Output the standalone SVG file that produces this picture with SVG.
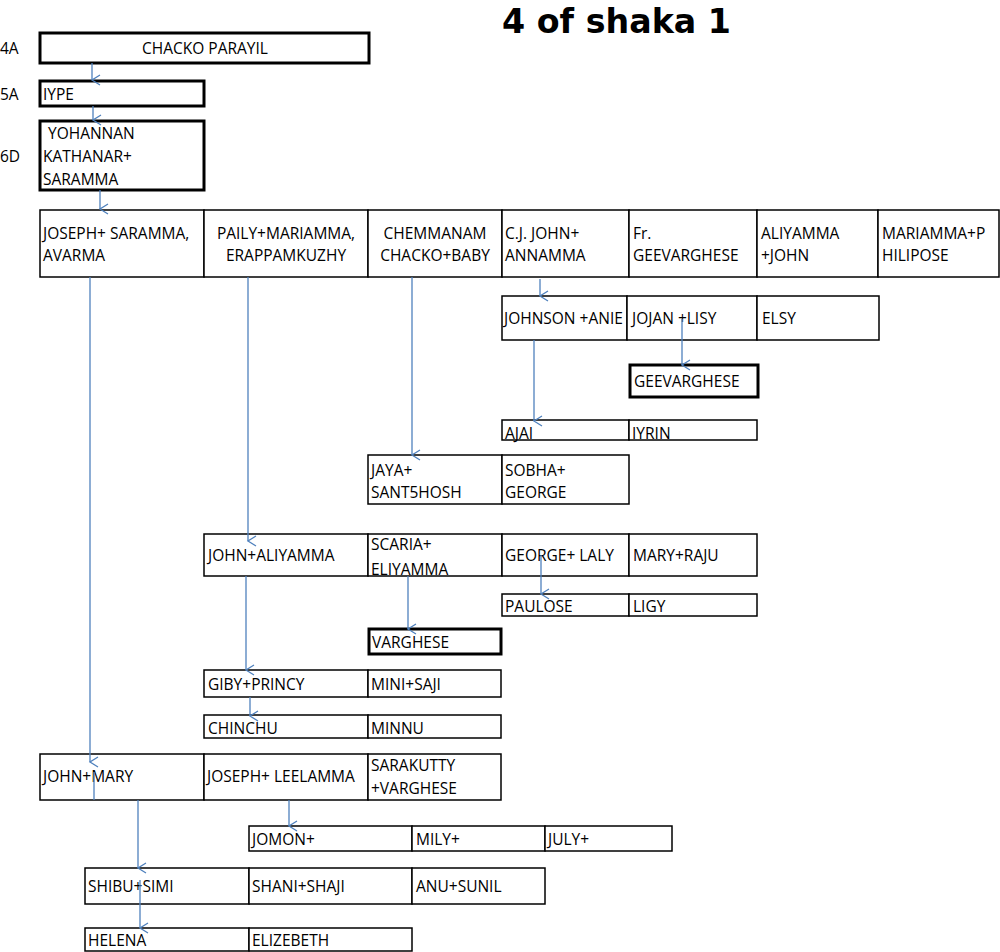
<svg xmlns="http://www.w3.org/2000/svg" width="1000" height="952" viewBox="0 0 1000 952">
<style>
.b{fill:#fff;stroke:#000;stroke-width:1.5}
.t{fill:#fff;stroke:#000;stroke-width:3}
text{font-family:"Open Sans","Liberation Sans",sans-serif;font-size:15.5px;fill:#000}
.c{text-anchor:middle}
.ti{font-family:"DejaVu Sans",sans-serif;font-weight:bold;font-size:34px}
.a{stroke:#4F81BD;stroke-width:1.3;fill:none}
</style>
<defs>
<marker id="ar" markerUnits="userSpaceOnUse" markerWidth="14" markerHeight="12" refX="6" refY="10" orient="auto-start-reverse" viewBox="0 0 12 12">
<path d="M1,2 L6,10 L11,2" fill="none" stroke="#4F81BD" stroke-width="1.3"/>
</marker>
</defs>
<rect width="1000" height="952" fill="#fff"/>
<text class="ti" x="502" y="33" textLength="229" lengthAdjust="spacingAndGlyphs">4 of shaka 1</text>
<text x="0" y="54">4A</text>
<text x="0" y="100">5A</text>
<text x="0" y="162">6D</text>

<g id="n4a"><rect class="t" x="40" y="33" width="329" height="30"/><text class="c" x="205" y="54">CHACKO PARAYIL</text></g>
<g id="n5a"><rect class="t" x="40" y="81" width="164" height="25"/><text x="43" y="100">IYPE</text></g>
<g id="n6d"><rect class="t" x="40" y="121" width="164" height="69"/><text x="48" y="139">YOHANNAN</text><text x="43" y="162">KATHANAR+</text><text x="43" y="185">SARAMMA</text></g>

<g id="row1">
<rect class="b" x="40" y="210" width="164" height="67"/><text x="43" y="239">JOSEPH+ SARAMMA,</text><text x="43" y="261">AVARMA</text>
<rect class="b" x="204" y="210" width="164" height="67"/><text class="c" x="286" y="239">PAILY+MARIAMMA,</text><text class="c" x="286" y="261">ERAPPAMKUZHY</text>
<rect class="b" x="368" y="210" width="134" height="67"/><text class="c" x="435" y="239">CHEMMANAM</text><text class="c" x="435" y="261">CHACKO+BABY</text>
<rect class="b" x="502" y="210" width="127" height="67"/><text x="505" y="239">C.J. JOHN+</text><text x="505" y="261">ANNAMMA</text>
<rect class="b" x="629" y="210" width="128" height="67"/><text x="633" y="239">Fr.</text><text x="633" y="261">GEEVARGHESE</text>
<rect class="b" x="757" y="210" width="121" height="67"/><text x="761" y="239">ALIYAMMA</text><text x="761" y="261">+JOHN</text>
<rect class="b" x="878" y="210" width="121" height="67"/><text x="882" y="239">MARIAMMA+P</text><text x="882" y="261">HILIPOSE</text>
</g>

<g id="rowJohnson">
<rect class="b" x="502" y="296" width="125" height="44"/><text x="504" y="324">JOHNSON +ANIE</text>
<rect class="b" x="627" y="296" width="130" height="44"/><text x="632" y="324">JOJAN +LISY</text>
<rect class="b" x="757" y="296" width="122" height="44"/><text x="762" y="324">ELSY</text>
</g>
<g id="nGeev"><rect class="t" x="630" y="365" width="128" height="32"/><text x="634" y="387">GEEVARGHESE</text></g>
<g id="rowAjai">
<rect class="b" x="502" y="420" width="127" height="20"/><text x="505" y="439">AJAI</text>
<rect class="b" x="629" y="420" width="128" height="20"/><text x="632" y="439">IYRIN</text>
</g>
<g id="rowJaya">
<rect class="b" x="368" y="455" width="134" height="49"/><text x="371" y="476">JAYA+</text><text x="371" y="498">SANT5HOSH</text>
<rect class="b" x="502" y="455" width="127" height="49"/><text x="505" y="476">SOBHA+</text><text x="505" y="498">GEORGE</text>
</g>
<g id="rowJohnAli">
<rect class="b" x="204" y="534" width="164" height="42"/><text x="208" y="561">JOHN+ALIYAMMA</text>
<rect class="b" x="368" y="534" width="134" height="42"/><text x="371" y="550">SCARIA+</text><text x="371" y="575">ELIYAMMA</text>
<rect class="b" x="502" y="534" width="127" height="42"/><text x="505" y="561">GEORGE+ LALY</text>
<rect class="b" x="629" y="534" width="128" height="42"/><text x="633" y="561">MARY+RAJU</text>
</g>
<g id="rowPaulose">
<rect class="b" x="502" y="594" width="127" height="22"/><text x="505" y="612">PAULOSE</text>
<rect class="b" x="629" y="594" width="128" height="22"/><text x="633" y="612">LIGY</text>
</g>
<g id="nVarghese"><rect class="t" x="369" y="629" width="132" height="25"/><text x="372" y="648">VARGHESE</text></g>
<g id="rowGiby">
<rect class="b" x="204" y="670" width="164" height="27"/><text x="208" y="690">GIBY+PRINCY</text>
<rect class="b" x="368" y="670" width="133" height="27"/><text x="371" y="690">MINI+SAJI</text>
</g>
<g id="rowChinchu">
<rect class="b" x="204" y="715" width="164" height="23"/><text x="208" y="734">CHINCHU</text>
<rect class="b" x="368" y="715" width="133" height="23"/><text x="371" y="734">MINNU</text>
</g>
<g id="rowJohnMary">
<rect class="b" x="40" y="754" width="164" height="46"/><text x="43" y="782">JOHN+MARY</text>
<rect class="b" x="204" y="754" width="164" height="46"/><text x="207" y="782">JOSEPH+ LEELAMMA</text>
<rect class="b" x="368" y="754" width="133" height="46"/><text x="371" y="771">SARAKUTTY</text><text x="371" y="794">+VARGHESE</text>
</g>
<g id="rowJomon">
<rect class="b" x="249" y="826" width="163" height="25"/><text x="252" y="845">JOMON+</text>
<rect class="b" x="412" y="826" width="133" height="25"/><text x="416" y="845">MILY+</text>
<rect class="b" x="545" y="826" width="127" height="25"/><text x="548" y="845">JULY+</text>
</g>
<g id="rowShibu">
<rect class="b" x="85" y="868" width="164" height="36"/><text x="88" y="892">SHIBU+SIMI</text>
<rect class="b" x="249" y="868" width="163" height="36"/><text x="252" y="892">SHANI+SHAJI</text>
<rect class="b" x="412" y="868" width="133" height="36"/><text x="416" y="892">ANU+SUNIL</text>
</g>
<g id="rowHelena">
<rect class="b" x="85" y="928" width="164" height="23"/><text x="88" y="946">HELENA</text>
<rect class="b" x="249" y="928" width="163" height="23"/><text x="252" y="946">ELIZEBETH</text>
</g>

<g id="connectors">
<line class="a" x1="92" y1="63" x2="92" y2="80" marker-end="url(#ar)"/>
<line class="a" x1="93" y1="106" x2="93" y2="120" marker-end="url(#ar)"/>
<line class="a" x1="100" y1="190" x2="100" y2="209" marker-end="url(#ar)"/>
<line class="a" x1="90" y1="277" x2="90" y2="762" marker-end="url(#ar)"/>
<line class="a" x1="248" y1="277" x2="248" y2="541" marker-end="url(#ar)"/>
<line class="a" x1="412" y1="277" x2="412" y2="455" marker-end="url(#ar)"/>
<line class="a" x1="540" y1="279" x2="540" y2="296" marker-end="url(#ar)"/>
<line class="a" x1="682" y1="319" x2="682" y2="365" marker-end="url(#ar)"/>
<line class="a" x1="534" y1="340" x2="534" y2="421" marker-end="url(#ar)"/>
<line class="a" x1="541" y1="555" x2="541" y2="594" marker-end="url(#ar)"/>
<line class="a" x1="408" y1="576" x2="408" y2="629" marker-end="url(#ar)"/>
<line class="a" x1="246" y1="576" x2="246" y2="670" marker-end="url(#ar)"/>
<line class="a" x1="250" y1="697" x2="250" y2="716" marker-end="url(#ar)"/>
<line class="a" x1="94" y1="772" x2="94" y2="800"/>
<line class="a" x1="138" y1="800" x2="138" y2="868" marker-end="url(#ar)"/>
<line class="a" x1="289" y1="800" x2="289" y2="826" marker-end="url(#ar)"/>
<line class="a" x1="140" y1="880" x2="140" y2="928" marker-end="url(#ar)"/>
</g>
</svg>
